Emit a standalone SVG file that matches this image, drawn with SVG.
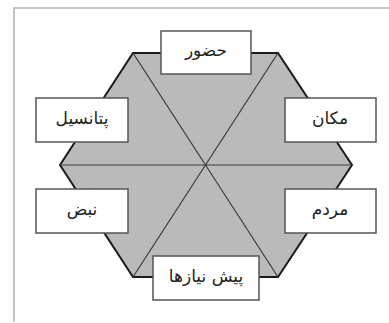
<svg xmlns="http://www.w3.org/2000/svg" width="389" height="323" viewBox="0 0 389 323">
<style>
.frame{stroke:#c4c4c4;stroke-width:2;fill:none}
.hex{fill:#bababa;stroke:#1a1a1a;stroke-width:2;stroke-linejoin:miter}
.div{stroke:#3a3a3a;stroke-width:1.2;fill:none}
.box{fill:#ffffff;stroke:#555555;stroke-width:1.5}
.lbl{font-family:"DejaVu Sans","Noto Sans",sans-serif;font-size:17px;fill:#222222;text-anchor:middle;direction:rtl}
</style>
<rect x="0" y="0" width="389" height="323" fill="#ffffff"/>
<path class="frame" d="M14 322 V8 H389"/>
<g id="hexagon">
<polygon class="hex" points="133,53 278,53 352,165 278,277 133,277 60,165"/>
</g>
<g id="connectors">
<line class="div" x1="133" y1="53" x2="278" y2="277"/>
<line class="div" x1="278" y1="53" x2="133" y2="277"/>
<line class="div" x1="60" y1="165" x2="352" y2="165"/>
</g>
<g id="n-hozur">
<rect class="box" x="161" y="31" width="90" height="43"/>
<text class="lbl" x="206" y="56">حضور</text>
</g>
<g id="n-potansil">
<rect class="box" x="36" y="98" width="92" height="44"/>
<text class="lbl" x="82" y="124">پتانسیل</text>
</g>
<g id="n-makan">
<rect class="box" x="285" y="98" width="91" height="44"/>
<text class="lbl" x="330" y="124">مکان</text>
</g>
<g id="n-nabz">
<rect class="box" x="36" y="189" width="92" height="44"/>
<text class="lbl" x="82" y="215">نبض</text>
</g>
<g id="n-mardom">
<rect class="box" x="285" y="189" width="91" height="44"/>
<text class="lbl" x="330" y="215">مردم</text>
</g>
<g id="n-pishniaz">
<rect class="box" x="153" y="256" width="106" height="44"/>
<text class="lbl" x="206" y="282">پیش نیازها</text>
</g>
</svg>
